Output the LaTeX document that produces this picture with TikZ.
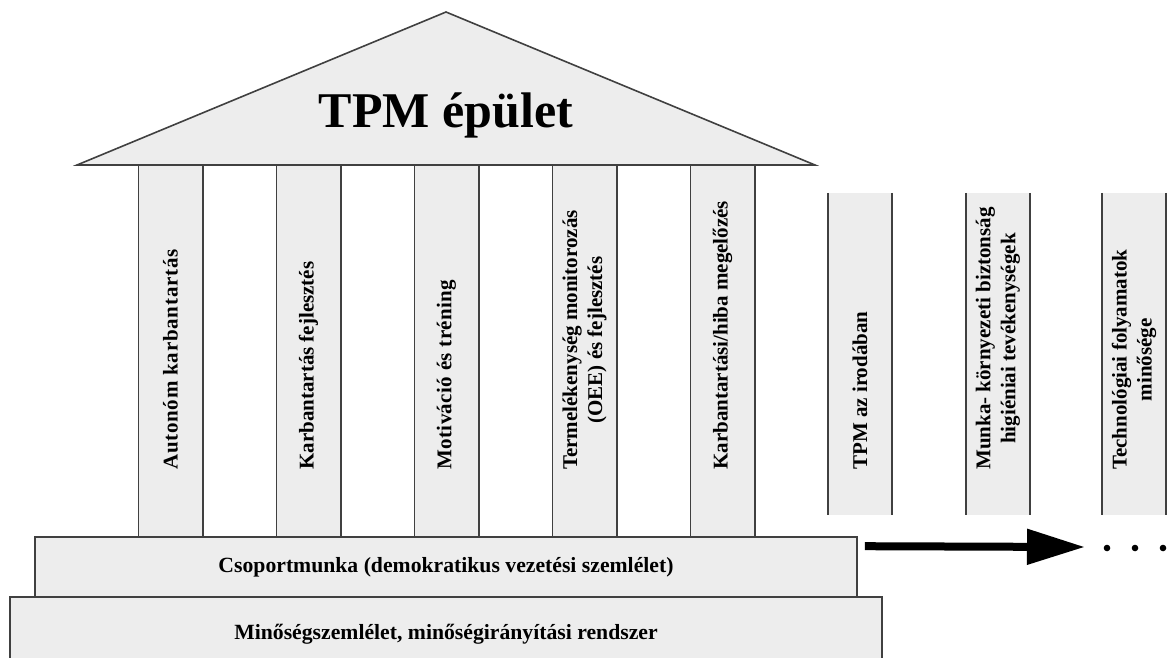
\documentclass[tikz,border=0pt]{standalone}
\usepackage{fontspec}
\setmainfont{Liberation Serif}
\usetikzlibrary{arrows.meta,positioning}
\definecolor{mygray}{RGB}{237,237,237}
\definecolor{myline}{RGB}{64,64,64}

\begin{document}
\begin{tikzpicture}[
  x=1pt, y=-1pt,
  mydraw/.style={draw=myline, line width=1.6pt},
  myroof/.style={mydraw, fill=mygray, line join=miter},
  mytitle/.style={font=\fontsize{50}{60}\selectfont\bfseries, inner sep=0pt},
  mypillar/.style={
    fill=mygray,
    inner sep=0pt,
    minimum width=64pt
    },
  mylabel/.style={
    rotate=90,
    anchor=west,
    align=center,
    inner sep=0pt,
    font=\fontsize{21}{25}\selectfont\bfseries
    },
  mybase/.style={
    fill=mygray,
    inner sep=0pt,
    font=\fontsize{21.7}{25}\selectfont\bfseries
    },
  myarrow/.style={line width=8pt, -{Triangle[length=58pt,width=34pt]}}
]
\useasboundingbox (0,0) rectangle (1168,657);

% pillars
\node [mypillar, minimum height=372pt] (p1) at (170.5,351) {};
\node [mypillar, minimum height=372pt] (p2) at (308.5,351) {};
\node [mypillar, minimum height=372pt] (p3) at (446.5,351) {};
\node [mypillar, minimum height=372pt] (p4) at (584.5,351) {};
\node [mypillar, minimum height=372pt] (p5) at (722.5,351) {};
\node [mypillar, minimum height=322pt] (p6) at (860,354) {};
\node [mypillar, minimum height=322pt] (p7) at (998,354) {};
\node [mypillar, minimum height=322pt] (p8) at (1134,354) {};
\foreach \p in {p1,p2,p3,p4,p5,p6,p7,p8}
  \draw [mydraw] (\p.north west) -- (\p.south west) (\p.north east) -- (\p.south east);

\coordinate (tb) at (0,470);
\node [mylabel] (l1) at (p1 |- tb) {\addfontfeature{LetterSpace=3.5}Autonóm karbantartás};
\node [mylabel] (l2) at (p2 |- tb) {Karbantartás fejlesztés};
\node [mylabel] (l3) at (p3 |- tb) {\addfontfeature{LetterSpace=2}Motiváció és tréning};
\node [mylabel] (l4) at (p4 |- tb) {Termelékenység monitorozás\\(OEE) és fejlesztés};
\node [mylabel] (l5) at (p5 |- tb) {Karbantartási/hiba megelőzés};
\node [mylabel] (l6) at (p6 |- tb) {TPM az irodában};
\node [mylabel] (l7) at (p7 |- tb) {Munka- környezeti biztonság\\higiéniai tevékenységek};
\node [mylabel] (l8) at (p8 |- tb) {Technológiai folyamatok\\minősége};

% roof
\coordinate (roofl) at (77,165);
\coordinate (apex) at (446,12);
\coordinate (roofr) at (815,165);
\draw [myroof] (roofl) -- (apex) -- (roofr) -- cycle;
\node [mytitle, anchor=base] (title) at (446,127) {TPM épület};

% base
\node [mybase, minimum width=872pt, minimum height=66pt] (b2) at (446,630) {};
\draw [mydraw] (b2.south west) -- (b2.north west) -- (b2.north east) -- (b2.south east);
\node [mybase] (t2) at (446,634) {Minőségszemlélet, minőségirányítási rendszer};
\node [mybase, mydraw, minimum width=822pt, minimum height=60pt] (b1) at (446,567) {Csoportmunka (demokratikus vezetési szemlélet)};

% arrow
\coordinate (tip) at (1085,547);
\draw [myarrow] ([shift={(7pt,-10pt)}]b1.north east) -- (tip);
\foreach \x in {1107,1135,1163}
  \fill (\x,548) circle (3.3pt);

\end{tikzpicture}
\end{document}
